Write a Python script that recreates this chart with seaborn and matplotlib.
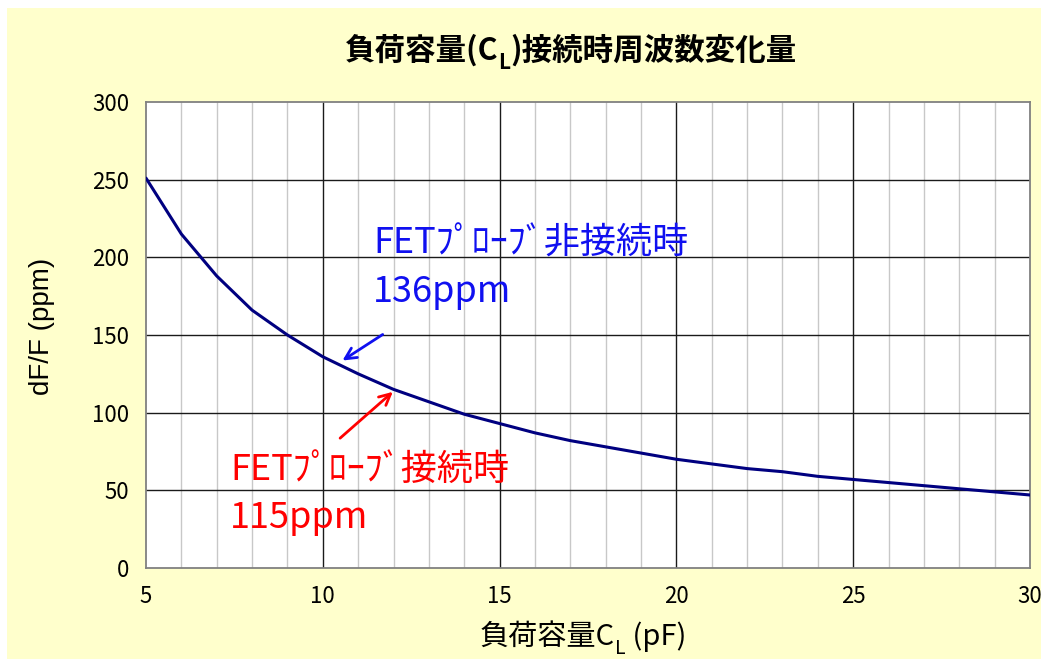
import numpy as np
import pandas as pd
import matplotlib
matplotlib.use('Agg')
import matplotlib.pyplot as plt
import seaborn as sns
from matplotlib.patches import Rectangle

# data
cl_pf = [5, 6, 7, 8, 9, 10, 11, 12, 13, 14, 15, 16, 17, 18, 19, 20,
         21, 22, 23, 24, 25, 26, 27, 28, 29, 30]
df_ppm = [251, 215, 188, 166, 150, 136, 125, 115, 107, 99, 93, 87, 82, 78, 74, 70,
          67, 64, 62, 59, 57, 55, 53, 51, 49, 47]
y_ticks = [0, 50, 100, 150, 200, 250, 300]
x_ticks = [5, 10, 15, 20, 25, 30]

sns.set_theme(style='white')
plt.rcParams['font.family'] = ['Noto Sans CJK JP', 'DejaVu Sans']
plt.rcParams['text.color'] = 'black'
plt.rcParams['xtick.color'] = 'black'
plt.rcParams['ytick.color'] = 'black'

W, H = 1041, 659
fig = plt.figure(figsize=(W / 100, H / 100), dpi=100, facecolor='#FFFFCC')
#white margin on the top and left of the chart area
fig.patches.append(Rectangle((0, 1 - 8 / H), 1, 8 / H, transform=fig.transFigure,
                             facecolor='white', edgecolor='none'))
fig.patches.append(Rectangle((0, 0), 7 / W, 1, transform=fig.transFigure,
                             facecolor='white', edgecolor='none'))

ax = fig.add_axes([146 / W, 1 - 568 / H, (1030 - 146) / W, (568 - 102) / H])
ax.set_facecolor('white')

data = pd.DataFrame({'CL': cl_pf, 'dF': df_ppm})

#grid lines
for x in range(6, 30):
    major = x % 5 == 0
    ax.axvline(x, color='#1a1a1a' if major else '#c8c8c8', lw=1.0, zorder=1)
for y in y_ticks[1:-1]:
    ax.axhline(y, color='#1a1a1a', lw=1.0, zorder=1)

sns.lineplot(data=data, x='CL', y='dF', ax=ax, color='#000080', lw=2.2, zorder=3)

ax.set_xlim(5, 30)
ax.set_ylim(0, 300)
ax.set_xticks(x_ticks)
ax.set_yticks(y_ticks)
ax.tick_params(axis='both', direction='in', length=5, width=1, color='black',
               labelsize=16, pad=12)
for s in ax.spines.values():
    s.set_color('#808080')
    s.set_linewidth(1.3)
ax.set_xlabel('')
ax.set_ylabel('')

#annotations
ax.text(11.42, 208.6, 'FETﾌﾟﾛｰﾌﾞ非接続時', color='#1010F0', fontsize=26,
        ha='left', va='center', zorder=4)
ax.text(11.42, 177.7, '136ppm', color='#1010F0', fontsize=26,
        ha='left', va='center', zorder=4)
ax.text(7.38, 63.1, 'FETﾌﾟﾛｰﾌﾞ接続時', color='#FF0000', fontsize=26,
        ha='left', va='center', zorder=4)
ax.text(7.38, 32.2, '115ppm', color='#FF0000', fontsize=26,
        ha='left', va='center', zorder=4)
ax.annotate('', xy=(10.49, 132.6), xytext=(11.76, 151.3),
            arrowprops=dict(arrowstyle='->', color='#1010F0', lw=2, mutation_scale=20), zorder=4)
ax.annotate('', xy=(12.04, 114.6), xytext=(10.43, 82.4),
            arrowprops=dict(arrowstyle='->', color='#FF0000', lw=2, mutation_scale=20), zorder=4)

#title with subscript L, built from pieces
t1 = fig.text(345 / W, 1 - 50 / H, '負荷容量(C', fontsize=22, fontweight='bold',
              ha='left', va='center')
t2 = ax.annotate('L', xy=(1, 0), xycoords=t1, xytext=(0, -5), textcoords='offset points',
                 fontsize=15, fontweight='bold', ha='left', va='bottom', annotation_clip=False)
ax.annotate(')接続時周波数変化量', xy=(1, 0), xycoords=t2, xytext=(0, 5),
            textcoords='offset points', fontsize=22, fontweight='bold',
            ha='left', va='bottom', annotation_clip=False)

#x label with subscript L
x1 = fig.text(480 / W, 1 - 637 / H, '負荷容量C', fontsize=21, ha='left', va='center')
x2 = ax.annotate('L', xy=(1, 0), xycoords=x1, xytext=(0, -5), textcoords='offset points',
                 fontsize=14, ha='left', va='bottom', annotation_clip=False)
ax.annotate(' (pF)', xy=(1, 0), xycoords=x2, xytext=(0, 5), textcoords='offset points',
            fontsize=21, ha='left', va='bottom', annotation_clip=False)

#y label
fig.text(42 / W, 1 - 326 / H, 'dF/F (ppm)', fontsize=20, rotation=90,
         ha='center', va='center', family=['Liberation Sans', 'DejaVu Sans'])

fig.savefig('out.png', dpi=100, facecolor=fig.get_facecolor())
